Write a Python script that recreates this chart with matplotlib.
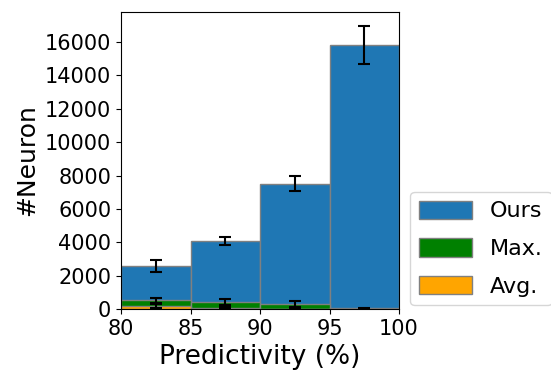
import numpy as np
from matplotlib import pyplot as plt

bins = [80, 85, 90, 95]
ours = [2560, 4070, 7510, 15820]
ours_err = [350, 260, 450, 1160]
max_vals = [520, 420, 320, 30]
max_err = [150, 170, 180, 20]
avg_vals = [170, 40, 20, 10]
avg_err = [110, 60, 30, 10]

fig = plt.figure(figsize=(5.51, 3.73), dpi=100)
ax = fig.add_axes([121 / 551, 1 - 309 / 373, 278 / 551, 297 / 373])

x = np.array(bins) + 2.5
series = [
    (ours, ours_err, "#1f77b4", "Ours"),
    (max_vals, max_err, "green", "Max."),
    (avg_vals, avg_err, "orange", "Avg."),
]
for vals, err, color, label in series:
    ax.bar(bins, vals, width=5, align="edge", color=color,
           edgecolor="gray", linewidth=1, label=label)
for vals, err, color, label in series:
    ax.errorbar(x, vals, yerr=err, fmt="none", ecolor="black",
                elinewidth=1.5, capsize=4, capthick=1.5)

ax.set_xlim(80, 100)
ax.set_ylim(0, 17800)
ax.set_xticks([80, 85, 90, 95, 100])
ax.set_yticks(range(0, 16001, 2000))
ax.set_xlabel("Predictivity (%)", fontsize=19)
ax.set_ylabel("#Neuron", fontsize=18)
ax.tick_params(labelsize=15)

ax.legend(loc="lower left", bbox_to_anchor=(1.04, 0.012), fontsize=16,
          handlelength=2.4, handleheight=0.9, labelspacing=0.75,
          borderaxespad=0)

fig.savefig("out.png", dpi=100)
